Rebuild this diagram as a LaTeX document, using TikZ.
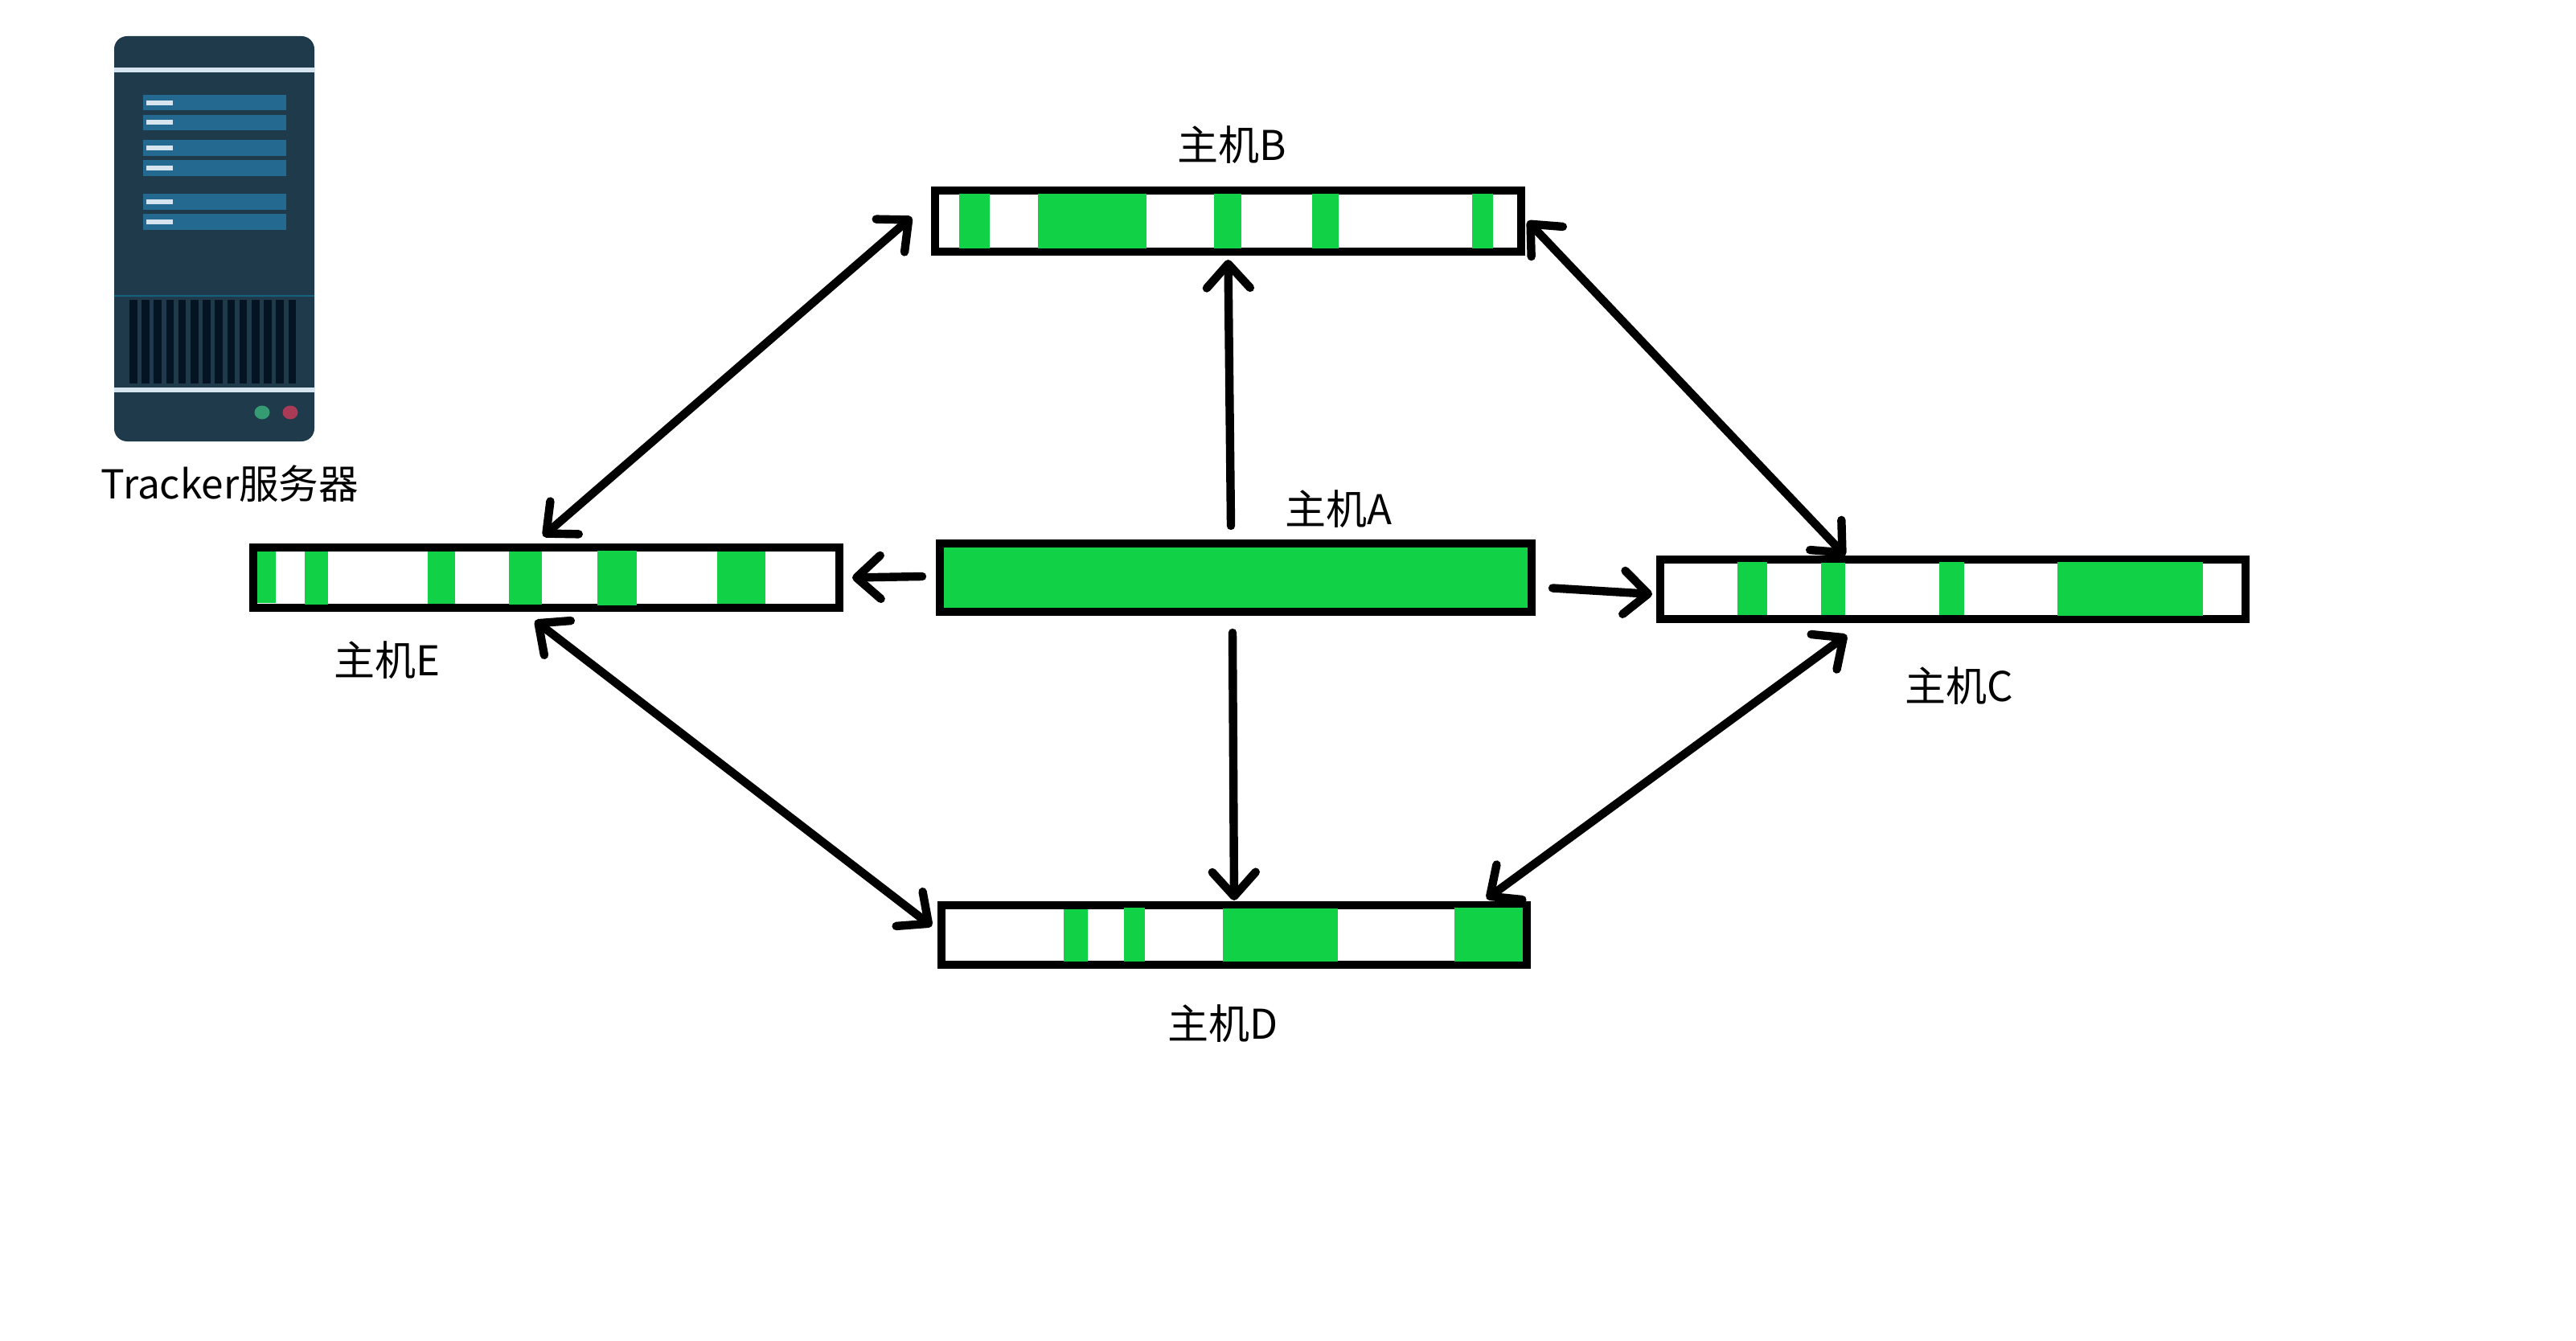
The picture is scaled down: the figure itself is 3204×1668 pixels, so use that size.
\documentclass[tikz,border=0pt]{standalone}
\usepackage{fontspec}
\setmainfont{Noto Sans CJK SC}
\usetikzlibrary{arrows.meta}
\definecolor{seedgreen}{HTML}{11D147}
\definecolor{srvbody}{HTML}{1F3A4A}
\definecolor{srvrow}{HTML}{246A90}
\definecolor{srvlight}{HTML}{D6E4F0}
\definecolor{srvvent}{HTML}{041423}
\definecolor{srvline}{HTML}{14607F}
\definecolor{srvgreen}{HTML}{359B73}
\definecolor{srvred}{HTML}{A93B57}
\tikzset{
  hostbox/.style={draw=black,line width=5pt,fill=white,rectangle,inner sep=0pt,outer sep=0pt},
  hostlabel/.style={inner sep=0pt,font=\fontsize{25.5pt}{30pt}\selectfont},
  piece/.style={fill=seedgreen,draw=none},
  link/.style={line width=5.2pt,line cap=round,-{Straight Barb[length=15pt,width=27pt,line cap=round,line join=round]}},
  duplex/.style={line width=5.2pt,line cap=round,{Straight Barb[length=15pt,width=27pt,line cap=round,line join=round]}-{Straight Barb[length=15pt,width=27pt,line cap=round,line join=round]}}
}
\newcommand{\pieceat}[4]{\fill[piece] (#1,#3) rectangle (#2,#4);}
\begin{document}
\begin{tikzpicture}[x=0.5pt,y=-0.5pt]
\useasboundingbox (0,0) rectangle (3204,1668);
\fill[white] (0,0) rectangle (3204,1668);
% server
\node[fill=srvbody,rectangle,rounded corners=8pt,minimum width=124.5pt,minimum height=252pt,inner sep=0pt,outer sep=0pt] (server) at (266.5,297) {};
\fill[srvlight] (142,84) rectangle (391,90);
\fill[srvlight] (142,482) rectangle (391,488);
\fill[srvline] (142,367) rectangle (391,369);
\foreach \a/\b in {118/137.5,143/162,174/194,199/219,241/261,266/286}{
  \fill[srvrow] (178,\a) rectangle (356,\b);
  \fill[srvlight] (182,{(\a+\b)/2-3}) rectangle (215,{(\a+\b)/2+3});
}
\foreach \i in {0,...,13}{
  \fill[srvvent] ({161+\i*15.2},373) rectangle ({170.5+\i*15.2},477);
}
\fill[srvgreen] (326,513) ellipse [x radius=9.5,y radius=8.5];
\fill[srvred] (361,513) ellipse [x radius=9.5,y radius=8.5];
\node[hostlabel,font=\fontsize{24.8pt}{30pt}\selectfont] (trackerlabel) at (286,602) {Tracker服务器};
% hosts
\node[hostbox,fill=seedgreen,minimum width=368pt,minimum height=42.5pt] (hostA) at (1537,718.5) {};
\node[hostbox,minimum width=364.5pt,minimum height=38pt] (hostB) at (1527.5,275) {};
\node[hostbox,minimum width=364pt,minimum height=37pt] (hostC) at (2429,733) {};
\node[hostbox,minimum width=364pt,minimum height=37pt] (hostD) at (1535,1163) {};
\node[hostbox,minimum width=364.5pt,minimum height=37.5pt] (hostE) at (679.5,718.5) {};
% pieces B
\pieceat{1193}{1231}{241}{309}
\pieceat{1291}{1426}{241}{309}
\pieceat{1510}{1544}{241}{309}
\pieceat{1632}{1665}{241}{309}
\pieceat{1831}{1857}{241}{309}
% pieces C
\pieceat{2161}{2198}{699}{765}
\pieceat{2265}{2295}{700}{765}
\pieceat{2412}{2443}{699}{765}
\pieceat{2559}{2740}{699}{766}
% pieces D
\pieceat{1323}{1353}{1131}{1196}
\pieceat{1398}{1424}{1129}{1196}
\pieceat{1521}{1664}{1130}{1196}
\pieceat{1809}{1894}{1129}{1196}
% pieces E
\pieceat{320}{343}{686}{750}
\pieceat{379}{408}{686}{752}
\pieceat{532}{566}{686}{751}
\pieceat{633}{674}{686}{752}
\pieceat{743}{792}{685}{753}
\pieceat{892}{952}{686}{751}
% labels
\node[hostlabel] (labelA) at (1665,633) {主机A};
\node[hostlabel] (labelB) at (1532,180) {主机B};
\node[hostlabel] (labelC) at (2437,853) {主机C};
\node[hostlabel] (labelD) at (1521,1273) {主机D};
\node[hostlabel] (labelE) at (482,821) {主机E};
% connectors
\draw[link] ([shift={(-6,-22)}]hostA.north) -- ([shift={(0,10)}]hostB.south);
\draw[link] ([shift={(-22,-1.5)}]hostA.west) -- ([shift={(16,0)}]hostE.east);
\draw[link] ([shift={(26,13)}]hostA.east) -- ([shift={(-10,6)}]hostC.west);
\draw[link] ([shift={(-4,26)}]hostA.south) -- ([shift={(0,-6)}]hostD.north);
\draw[duplex] ([shift={(-29,-5)}]hostB.west) -- ([shift={(-4,-14)}]hostE.north);
\draw[duplex] ([shift={(8,0)}]hostB.east) -- ([shift={(-134,-5)}]hostC.north);
\draw[duplex] ([shift={(-14,16)}]hostE.south) -- ([shift={(-12,-11)}]hostD.west);
\draw[duplex] ([shift={(-132,20)}]hostC.south) -- ([shift={(314,-8)}]hostD.north);
\end{tikzpicture}
\end{document}
